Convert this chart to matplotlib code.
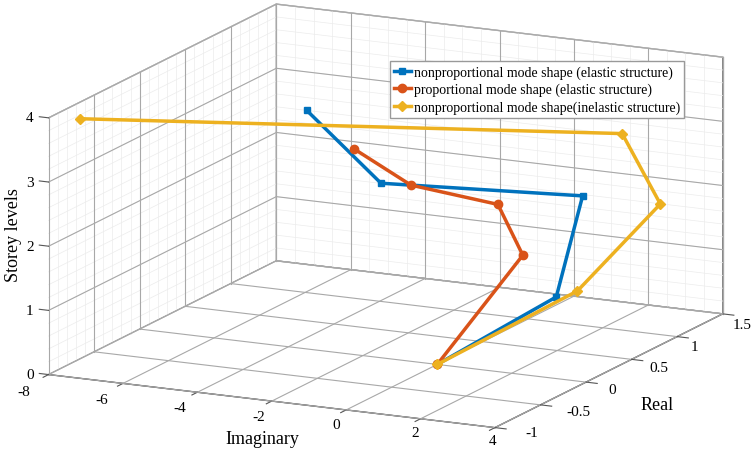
import numpy as np
import matplotlib.pyplot as plt
from mpl_toolkits.mplot3d import proj3d

plt.rcParams['font.family'] = ['Liberation Serif', 'DejaVu Serif']
plt.rcParams['axes.unicode_minus'] = False

# storey levels
storey = [0, 1, 2, 3, 4]

# nonproportional mode shape, elastic structure
np_el_imag = [0.0, 2.44, 1.41, -0.73, -2.73]
np_el_real = [0.0, 0.31, 1.02, -0.32, -0.32]

# proportional mode shape, elastic structure
p_el_imag = [0.0, -0.1, -0.06, 0.0, 0.0]
p_el_real = [0.0, 0.98, 0.69, -0.29, -0.91]

# nonproportional mode shape, inelastic structure
np_in_imag = [0.0, 2.64, 3.45, 2.35, -7.29]
np_in_real = [0.0, 0.46, 1.04, 1.07, -0.95]

labels = ['nonproportional mode shape (elastic structure)',
          'proportional mode shape (elastic structure)',
          'nonproportional mode shape(inelastic structure)']
colors = ['#0072BD', '#D95319', '#EDB120']

xticks = [-8, -6, -4, -2, 0, 2, 4]
yticks = [-1, -0.5, 0, 0.5, 1, 1.5]
ytick_labels = ['-1', '-0.5', '0', '0.5', '1', '1.5']
zticks = [0, 1, 2, 3, 4]

xlim = (-8, 4)
ylim = (-1, 1.5)
zlim = (0, 4)

W, H = 751, 452
fig = plt.figure(figsize=(W / 100, H / 100), dpi=100)
h = W / H
ax = fig.add_axes([0, 0.5 - h / 2 - 1 / H, 1, h], projection='3d', proj_type='ortho',
                  computed_zorder=False)
ax.view_init(elev=14.1, azim=-64.0)
ax.set_box_aspect((1, 1.046, 0.533), zoom=0.99)

x0, x1 = xlim
y0, y1 = ylim
z0, z1 = zlim

# minor grid on the two walls
mc, mw = '#ececec', 0.5
for v in np.arange(x0, x1 + 1e-9, 0.5):
    ax.plot([v, v], [y1, y1], zlim, color=mc, lw=mw, zorder=0.5)
for v in np.arange(y0, y1 + 1e-9, 0.1):
    ax.plot([x0, x0], [v, v], zlim, color=mc, lw=mw, zorder=0.5)
for v in np.arange(z0, z1 + 1e-9, 0.2):
    ax.plot([x0, x0], ylim, [v, v], color=mc, lw=mw, zorder=0.5)
    ax.plot(xlim, [y1, y1], [v, v], color=mc, lw=mw, zorder=0.5)

# major grid and tick marks
gc, gw, tc = '#a8a8a8', 0.8, '#555555'
for v in xticks:
    ax.plot([v, v], [y1, y1], zlim, color=gc, lw=gw, zorder=0.6)
    ax.plot([v, v], ylim, [z0, z0], color=gc, lw=gw, zorder=0.6)
    ax.plot([v, v], [y0, y0 - 0.06], [z0, z0], color=tc, lw=0.8, zorder=0.6)
for v in yticks:
    ax.plot([x0, x0], [v, v], zlim, color=gc, lw=gw, zorder=0.6)
    ax.plot(xlim, [v, v], [z0, z0], color=gc, lw=gw, zorder=0.6)
    ax.plot([x1, x1 + 0.3], [v, v], [z0, z0], color=tc, lw=0.8, zorder=0.6)
for v in zticks:
    ax.plot([x0, x0], ylim, [v, v], color=gc, lw=gw, zorder=0.6)
    ax.plot(xlim, [y1, y1], [v, v], color=gc, lw=gw, zorder=0.6)
    ax.plot([x0, x0 - 0.25], [y0, y0], [v, v], color=tc, lw=0.8, zorder=0.6)

ax.plot(np_el_imag, np_el_real, storey, '-s', color=colors[0], lw=2.5, ms=5, label=labels[0], zorder=3)
ax.plot(p_el_imag, p_el_real, storey, '-o', color=colors[1], lw=2.5, ms=6, label=labels[1], zorder=3)
ax.plot(np_in_imag, np_in_real, storey, '-D', color=colors[2], lw=2.5, ms=5, label=labels[2], zorder=3)

ax.set_xlim(xlim)
ax.set_ylim(ylim)
ax.set_zlim(zlim)
ax.set_xticks([])
ax.set_yticks([])
ax.set_zticks([])

for axis in (ax.xaxis, ax.yaxis, ax.zaxis):
    axis.set_pane_color((1, 1, 1, 1))
    axis.pane.set_edgecolor('#8c8c8c')
    axis.line.set_color(tc)

fig.canvas.draw()


def label_at(x, y, z, s, dx, dy, **kw):
    # project a 3D point to the figure and put the text there, offset in pixels
    xp, yp, _ = proj3d.proj_transform(x, y, z, ax.get_proj())
    px, py = ax.transData.transform((xp, yp))
    fig.text((px + dx) / W, (py - dy) / H, s, fontsize=11, va='center', **kw)


# tick labels placed like the MATLAB original
for v in xticks:
    t = (v - x0) / (x1 - x0)
    label_at(v, y0, z0, str(v), -25 + 23 * t, 17 - 4 * t, ha='center')
for v, s in zip(yticks, ytick_labels):
    t = (v - y0) / (y1 - y0)
    label_at(x1, v, z0, s, 30 - 20 * t, 5 + 6 * t, ha='left')
for v in zticks:
    label_at(x0, y0, v, str(v), -15, 0, ha='right')

# axis titles kept upright like the original
fig.text(0.349, 0.027, 'Imaginary', fontsize=13, ha='center', va='center')
fig.text(0.875, 0.102, 'Real', fontsize=13, ha='center', va='center')
fig.text(0.018, 0.48, 'Storey levels', fontsize=13, rotation=90, ha='center', va='center')

ax.legend(loc='upper left', bbox_to_anchor=(0.51, 0.878), bbox_transform=fig.transFigure,
          fontsize=10, framealpha=1, edgecolor='#999999', fancybox=False,
          handlelength=1.2, handletextpad=0.2, borderpad=0.3, labelspacing=0.3)

fig.savefig('out.png', dpi=100)
